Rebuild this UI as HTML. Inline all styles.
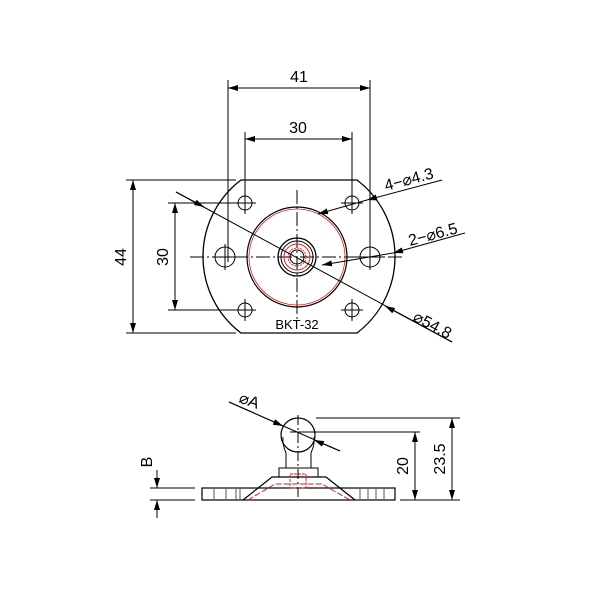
<!DOCTYPE html>
<html><head><style>body{margin:0;background:#fff}svg{display:block}</style></head><body>
<svg width="600" height="600" viewBox="0 0 600 600" xmlns="http://www.w3.org/2000/svg" font-family="Liberation Sans, sans-serif">
<defs><marker id="a" viewBox="0 0 10 6" refX="10" refY="3" markerWidth="10" markerHeight="6" orient="auto-start-reverse" markerUnits="userSpaceOnUse"><path d="M0,0L10,3L0,6z" fill="#000"/></marker></defs>
<g fill="none" stroke="#000" stroke-width="1">
<path d="M241,180 L357,180 A96,96 0 0 1 357,333 L241,333 A96,96 0 0 1 241,180 Z" stroke-width="1.3"/>
<line x1="190" y1="257" x2="405" y2="257" stroke-dasharray="14,3,2,3"/>
<line x1="297" y1="190" x2="297" y2="320" stroke-dasharray="14,3,2,3"/>
<circle cx="297" cy="257" r="50" stroke-width="1.2"/>
<circle cx="297" cy="257" r="48" stroke="#d22" stroke-width="0.8"/>
<circle cx="297" cy="257" r="19" stroke-width="1.3"/>
<circle cx="297" cy="257" r="16"/>
<circle cx="297" cy="257" r="13" stroke="#d22"/>
<circle cx="297" cy="257" r="9" stroke="#d22" stroke-dasharray="2,1"/>
<circle cx="297" cy="257" r="7"/>
<g>
<circle cx="245" cy="203" r="7"/><circle cx="352" cy="203" r="7"/>
<circle cx="245" cy="310" r="7"/><circle cx="352" cy="310" r="7"/>
<circle cx="225" cy="257" r="10"/><circle cx="370" cy="257" r="10"/>
<path d="M234,203h22M245,192v22M341,203h22M352,192v22M234,310h22M245,299v22M341,310h22M352,299v22M212,257h26M225,244v26M357,257h26M370,244v26"/>
</g>
<line x1="228" y1="80" x2="228" y2="262"/><line x1="370" y1="80" x2="370" y2="262"/>
<line x1="228" y1="88" x2="370" y2="88" marker-start="url(#a)" marker-end="url(#a)"/>
<line x1="245" y1="132" x2="245" y2="200"/><line x1="352" y1="132" x2="352" y2="200"/>
<line x1="245" y1="139" x2="352" y2="139" marker-start="url(#a)" marker-end="url(#a)"/>
<line x1="126" y1="180" x2="236" y2="180"/><line x1="126" y1="333" x2="236" y2="333"/>
<line x1="133" y1="180" x2="133" y2="333" marker-start="url(#a)" marker-end="url(#a)"/>
<line x1="168" y1="203" x2="240" y2="203"/><line x1="168" y1="310" x2="240" y2="310"/>
<line x1="175" y1="203" x2="175" y2="310" marker-start="url(#a)" marker-end="url(#a)"/>
<line x1="442" y1="180" x2="367" y2="200" marker-end="url(#a)"/>
<line x1="367" y1="200" x2="318" y2="214" marker-end="url(#a)"/>
<line x1="465" y1="233" x2="393" y2="253" marker-end="url(#a)"/>
<line x1="393" y1="253" x2="322" y2="265" marker-end="url(#a)"/>
<line x1="176" y1="192" x2="452" y2="342"/>
<line x1="176" y1="192" x2="204" y2="207" marker-end="url(#a)"/>
<line x1="452" y1="342" x2="385" y2="306" marker-end="url(#a)"/>
<rect x="202" y="488" width="193" height="12" stroke-width="1.2"/>
<path d="M243,500 L272,477 L326,477 L355,500" stroke-width="1.2"/>
<path d="M248,500 L275,484 L322,484 L350,500" stroke="#d22" stroke-dasharray="6,2"/>
<rect x="279" y="468" width="39" height="9"/>
<path d="M286,468 L286,453 Q282,444 283,437 M311,468 L311,453 Q315,444 314,437"/>
<circle cx="298" cy="435" r="17" stroke-width="1.2"/>
<rect x="290" y="474" width="16" height="14" stroke="#d22" stroke-dasharray="3,1"/>
<line x1="298" y1="415" x2="298" y2="500" stroke-dasharray="10,3,2,3"/>
<path d="M214,488v12M226,488v12M236,488v12M240,488v12M360,488v12M368,488v12M376,488v12M384,488v12" stroke="#555"/>
<line x1="229" y1="402" x2="340" y2="451"/>
<line x1="229" y1="402" x2="283" y2="426" marker-end="url(#a)"/>
<line x1="340" y1="451" x2="314" y2="440" marker-end="url(#a)"/>
<line x1="316" y1="418" x2="460" y2="418"/><line x1="290" y1="432" x2="420" y2="432"/>
<line x1="400" y1="500" x2="460" y2="500"/>
<line x1="415" y1="432" x2="415" y2="500" marker-start="url(#a)" marker-end="url(#a)"/>
<line x1="452" y1="418" x2="452" y2="500" marker-start="url(#a)" marker-end="url(#a)"/>
<line x1="150" y1="488" x2="195" y2="488"/><line x1="150" y1="500" x2="195" y2="500"/>
<line x1="157" y1="470" x2="157" y2="488" marker-end="url(#a)"/>
<line x1="157" y1="518" x2="157" y2="500" marker-end="url(#a)"/>
</g>
<g font-size="16" fill="#000">
<text x="299" y="82" text-anchor="middle">41</text>
<text x="298" y="133" text-anchor="middle">30</text>
<text transform="translate(126,257) rotate(-90)" text-anchor="middle">44</text>
<text transform="translate(168,257) rotate(-90)" text-anchor="middle">30</text>
<text transform="translate(386,191) rotate(-15)">4−⌀4.3</text>
<text transform="translate(410,246) rotate(-15)">2−⌀6.5</text>
<text transform="translate(412,320) rotate(28)">⌀54.8</text>
<text x="297" y="329" text-anchor="middle" font-size="13">BKT-32</text>
<text transform="translate(238,402) rotate(20)">⌀A</text>
<text transform="translate(408,466) rotate(-90)" text-anchor="middle">20</text>
<text transform="translate(445,459) rotate(-90)" text-anchor="middle">23.5</text>
<text transform="translate(152,462) rotate(-90)" text-anchor="middle">B</text>
</g>
</svg>
</body></html>
